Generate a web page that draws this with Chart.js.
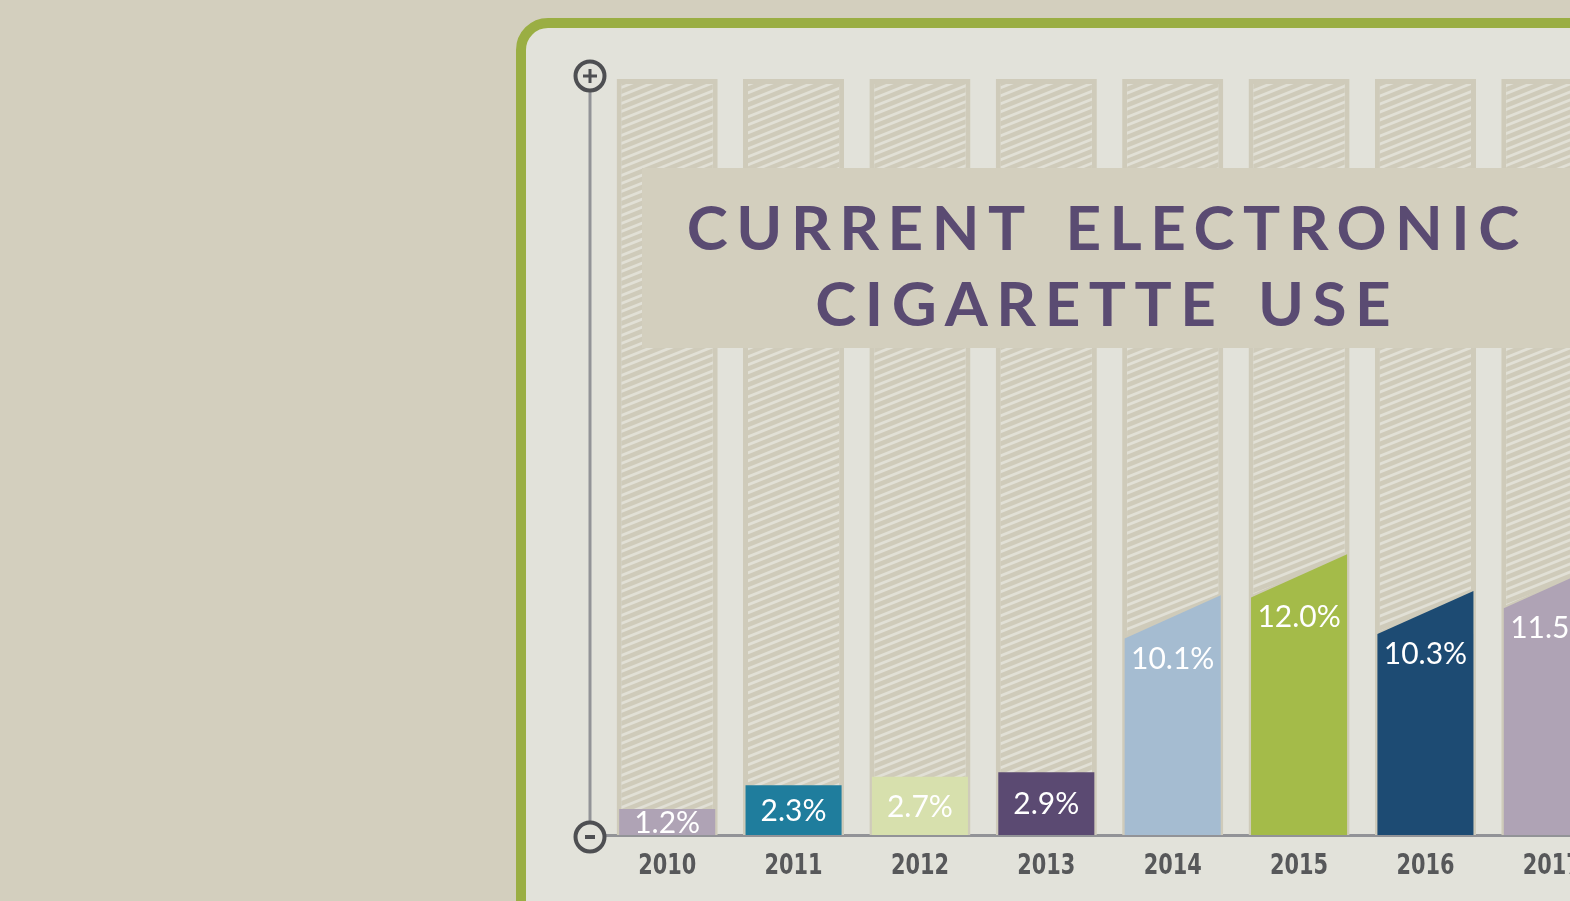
<!DOCTYPE html>
<html lang="en">
<head>
  <meta charset="UTF-8" />
  <title>Current Electronic Cigarette Use</title>
  <script src="https://cdn.jsdelivr.net/npm/chart.js"></script>
  <style>
    html, body {
      margin: 0;
      padding: 0;
      width: 1570px;
      height: 901px;
      overflow: hidden;
      background: #d3cfbe;
    }
    .panel {
      position: absolute;
      left: 516px;
      top: 18px;
      width: 1200px;
      height: 1000px;
      box-sizing: border-box;
      border: 10px solid #9aae43;
      border-radius: 32px;
      background: #e2e2da;
    }
    #chart {
      position: absolute;
      left: 0;
      top: 0;
    }
    .title-box {
      position: absolute;
      left: 642px;
      top: 168px;
      width: 1000px;
      height: 180px;
      background: #d3cfbe;
    }
    .title-box div {
      position: absolute;
      left: 0;
      top: 20px;
      width: 922px;
      box-sizing: border-box;
      padding-left: 8.5px;
      text-align: center;
      white-space: nowrap;
      font: 700 62px Lato, sans-serif;
      line-height: 76px;
      letter-spacing: 8.5px;
      word-spacing: 10px;
      color: #5a4b72;
    }
  </style>
</head>
<body>
  <div class="panel"></div>
  <canvas id="chart" width="1615" height="901"></canvas>
  <div class="title-box"><div>CURRENT ELECTRONIC<br>CIGARETTE USE</div></div>

  <script>
    const years = ['2010', '2011', '2012', '2013', '2014', '2015', '2016', '2017'];
    const usePct = [1.2, 2.3, 2.7, 2.9, 10.1, 12.0, 10.3, 11.5];
    const scaleMax = 35;

    const barColors = ['#afa3b5', '#1f7d9d', '#d7e0ad', '#5b4a72', '#a5bcd1', '#a4bb49', '#1d4b73', '#afa3b5'];
    const columnColor = '#cfcbba';

    // striped fill for the empty columns
    const makeHatch = () => {
      const w = 20, h = 8, tile = document.createElement('canvas');
      tile.width = w; tile.height = h;
      const g = tile.getContext('2d');
      g.fillStyle = columnColor;
      g.fillRect(0, 0, w, h);
      g.strokeStyle = '#e1e0d6';
      g.lineWidth = 2.8;
      for (let k = -2; k <= 4; k++) {
        const c0 = k * h;
        g.beginPath();
        g.moveTo(-w, c0 + h);
        g.lineTo(2 * w, c0 - 2 * h);
        g.stroke();
      }
      return document.getElementById('chart').getContext('2d').createPattern(tile, 'repeat');
    };

    const slantBars = {
      id: 'slantBars',
      beforeDatasetDraw(chart, args, opts) {
        if (args.index !== 1) return;
        const { ctx } = chart;
        const yScale = chart.scales.y;
        args.meta.data.forEach((bar, i) => {
          const { x, base, width } = bar.getProps(['x', 'base', 'width'], true);
          const v = chart.data.datasets[1].data[i];
          const d = opts.slanted[i] ? opts.slant : 0;
          const l = x - width / 2, r = x + width / 2;
          const yl = yScale.getPixelForValue(v - d);
          const yr = yScale.getPixelForValue(v + d);
          ctx.save();
          if (d) {
            ctx.strokeStyle = columnColor;
            ctx.lineWidth = 4;
            ctx.beginPath();
            ctx.moveTo(l, yl);
            ctx.lineTo(r, yr);
            ctx.stroke();
          }
          ctx.fillStyle = bar.options.backgroundColor;
          ctx.beginPath();
          ctx.moveTo(l, base);
          ctx.lineTo(l, yl);
          ctx.lineTo(r, yr);
          ctx.lineTo(r, base);
          ctx.closePath();
          ctx.fill();
          ctx.restore();
        });
        return false;
      },
      afterDatasetsDraw(chart, args, opts) {
        const { ctx } = chart;
        ctx.save();
        ctx.fillStyle = '#ffffff';
        ctx.font = '30px Lato, sans-serif';
        ctx.textAlign = 'center';
        ctx.textBaseline = 'middle';
        chart.getDatasetMeta(1).data.forEach((bar, i) => {
          const { x, y, base } = bar.getProps(['x', 'y', 'base'], true);
          const ty = opts.slanted[i] ? y + 42 : (y + base) / 2 + 1;
          ctx.fillText(usePct[i].toFixed(1) + '%', x, ty);
        });
        ctx.restore();
      },
      afterDraw(chart) {
        const { ctx, chartArea } = chart;
        const xScale = chart.scales.x;
        const ax = chartArea.left - 14;
        const topY = chartArea.top - 3, botY = chartArea.bottom + 2, rad = 14.5;
        ctx.save();
        ctx.strokeStyle = '#929397';
        ctx.lineWidth = 3;
        ctx.beginPath();
        ctx.moveTo(ax, topY + rad);
        ctx.lineTo(ax, botY - rad);
        ctx.stroke();

        ctx.strokeStyle = '#4e4f52';
        ctx.fillStyle = '#e2e2da';
        ctx.lineWidth = 4;
        [topY, botY].forEach(cy => {
          ctx.beginPath();
          ctx.arc(ax, cy, rad, 0, Math.PI * 2);
          ctx.fill();
          ctx.stroke();
        });
        ctx.lineWidth = 3;
        ctx.beginPath();
        ctx.moveTo(ax - 7, topY); ctx.lineTo(ax + 7, topY);
        ctx.moveTo(ax, topY - 7); ctx.lineTo(ax, topY + 7);
        ctx.stroke();
        ctx.fillStyle = '#4e4f52';
        ctx.fillRect(ax - 5, botY - 2, 10, 4);

        // condensed year labels under each column
        ctx.fillStyle = '#57585a';
        ctx.font = "bold 29px 'DejaVu Sans Condensed', 'DejaVu Sans', sans-serif";
        ctx.textAlign = 'center';
        ctx.textBaseline = 'middle';
        years.forEach((yr, i) => {
          ctx.save();
          ctx.translate(xScale.getPixelForTick(i), chartArea.bottom + 31);
          ctx.scale(0.8, 1);
          ctx.fillText(yr, 0, 0);
          ctx.restore();
        });
        ctx.restore();
      }
    };

    new Chart(document.getElementById('chart'), {
      type: 'bar',
      data: {
        labels: years,
        datasets: [{
          label: 'Scale',
          data: years.map(() => scaleMax),
          backgroundColor: makeHatch(),
          borderColor: columnColor,
          borderWidth: 5,
          borderSkipped: 'start',
          barPercentage: 0.8,
          categoryPercentage: 1,
          grouped: false,
          order: 2
        }, {
          label: 'Current e-cigarette use (%)',
          data: usePct,
          backgroundColor: barColors,
          barPercentage: 0.76,
          categoryPercentage: 1,
          grouped: false,
          order: 1
        }]
      },
      options: {
        responsive: false,
        animation: false,
        layout: { padding: { left: 604, top: 79, right: 0, bottom: 66 } },
        plugins: {
          legend: { display: false },
          tooltip: { enabled: false },
          slantBars: {
            slant: 1.0,
            slanted: [false, false, false, false, true, true, true, true]
          }
        },
        scales: {
          x: {
            z: 1,
            grid: { display: false, drawTicks: false },
            border: { display: true, color: '#929397', width: 3 },
            ticks: { display: false }
          },
          y: {
            display: false,
            min: 0,
            max: scaleMax
          }
        }
      },
      plugins: [slantBars]
    });
  </script>
</body>
</html>
